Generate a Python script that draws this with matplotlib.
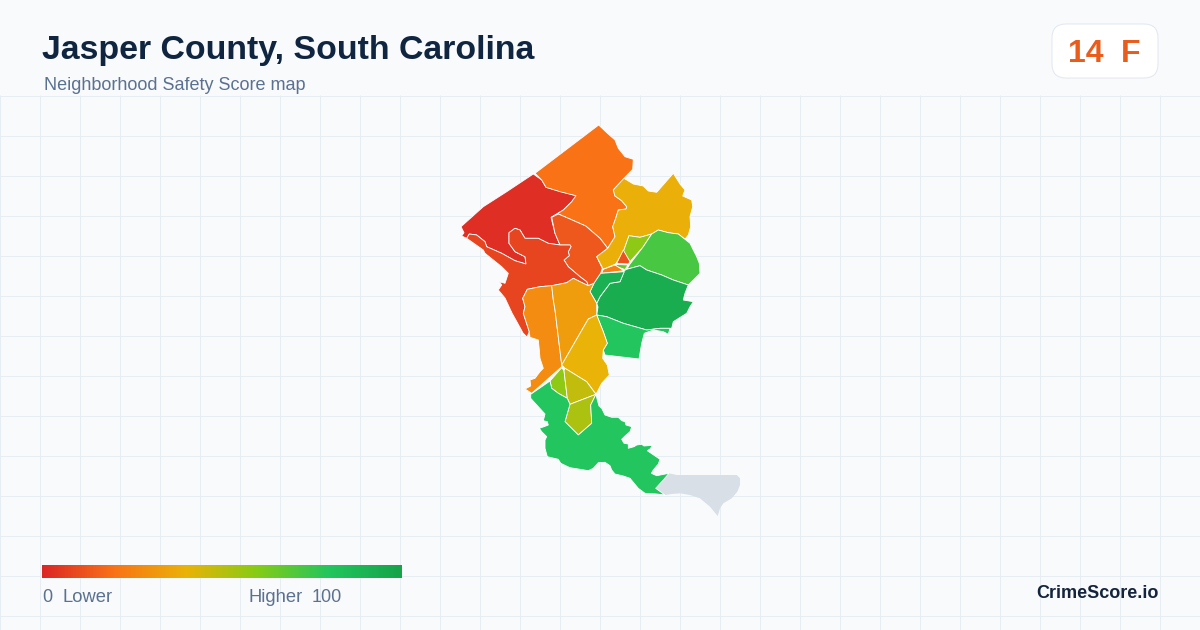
import numpy as np
import matplotlib.pyplot as plt
from matplotlib.colors import LinearSegmentedColormap, Normalize
from matplotlib.patches import FancyBboxPatch

title = "Jasper County, South Carolina"
subtitle = "Neighborhood Safety Score map"
score_text = "14"
grade_text = "F"
brand = "CrimeScore.io"

# region outlines (x, y in image pixels)
red_nw = [(533.3,174),(541.7,180),(546,187.3),(576,195.7),(571.7,201.7),(563.3,210),(551,217.3),(555,233.3),(560,245),
          (548.3,243.3),(538.3,238.3),(525,238.3),(520,230),(515,228.3),(509,232.7),(509,243.3),(515,251.7),(525,256.7),
          (526,264),(515,260.7),(501.7,253.3),(486.7,246.7),(485,241.7),(476.7,235),(469.3,234),(466.7,238.3),(461.7,236),
          (464,232.7),(461,226.7),(483.3,206.7),(506.7,191.7)]
north = [(598.7,125),(605.7,131.7),(615,140),(618.3,148.3),(625,156.7),(633.3,159.3),(632.7,169.3),(624,178.3),(613.3,190),
         (615,196),(621.7,200.7),(626.7,206.7),(626,209),(618.3,210),(615.7,218.3),(612.7,226.7),(615,236.7),(607.7,248.3),
         (600,238.3),(585.7,226),(568.3,218.3),(558.3,214),(551.7,217.3),(563.3,210),(571.7,201.7),(576,195.7),(560,191.7),
         (546,187.3),(541.7,180),(535,173.3)]
central = [(551.7,217.3),(558.3,214),(568.3,218.3),(585.7,226),(600,238.3),(607.7,248.3),(596.7,256.7),(602.3,268.3),
           (600.7,273.3),(594,283.3),(588.3,285.7),(586.7,281.7),(580,276.7),(568.3,266.7),(564,260),(569.3,255.7),
           (568.3,251.7),(571,246.7),(570,245),(560,245),(555,233.3)]
west = [(469.3,234),(476.7,235),(485,241.7),(486.7,246.7),(501.7,253.3),(515,260.7),(526,264),(525,256.7),(515,251.7),
        (509,243.3),(509,232.7),(515,228.3),(520,230),(525,238.3),(538.3,238.3),(548.3,243.3),(560,245),(570,245),(571,246.7),
        (568.3,251.7),(569.3,255.7),(564,260),(568.3,266.7),(580,276.7),(586.7,281.7),(588.3,285.7),(583.3,283.3),(573.3,278.3),
        (566.7,282.7),(551.7,285.7),(540,286.7),(527.3,289.3),(522.7,298.3),(525,306.7),(523.3,313.3),(529.3,331.7),(527,337),(523,333),
        (517,322),(512,313),(505,298),(498.3,290),(501.7,285),(499.3,281.7),(505,283.3),(508.3,273.3),(501.7,266.7),(485,253.3),
        (483.3,250),(466.7,238.3)]
northeast = [(624,178.3),(633.3,184),(643.3,186),(648.3,191),(656.7,192.3),(673.3,173.3),(680,184),(685,190),(682.7,196),
             (691.7,200),(692.7,206.7),(690,216.7),(690.7,226.7),(688.3,235),(685,239.3),(678.3,234),(668.3,232.7),(658.3,230),
             (651.7,234),(640,237.3),(629,235.7),(623.3,251.7),(615.7,264),(603.3,269.3),(596.7,256.7),(607.7,248.3),(615,236.7),
             (612.7,226.7),(615.7,218.3),(618.3,210),(626,209),(626.7,206.7),(621.7,200.7),(615,196),(613.3,190)]
lime_small = [(629,235.7),(640,237.3),(651.7,234),(643.3,246.7),(630,261.7),(623.3,251.7)]
sliver_red = [(623.3,250),(630,261.7),(628.3,264),(616.7,263.3)]
sliver_green = [(615,264.3),(628,265),(625,269.5),(617,266.7)]
sliver_orange = [(603.3,269.3),(615,265),(624,270.7),(601.7,273.3)]
green_ne = [(651.7,234),(658.3,230),(668.3,232.7),(678.3,234),(685,239.3),(690,243.3),(693.3,250),(696.7,256.7),(699.3,263.3),(700,273.3),
            (693.3,280),(688.3,285),(673.3,280),(661.7,275),(646.7,270),(640,265.7),(626.7,269.3),(630,264),(643.3,246.7)]
green_main = [(624.3,270.7),(626.7,269.3),(640,265.7),(646.7,270),(661.7,275),(673.3,280),(688.3,285),(685,293.3),(683.3,300),
              (693.3,301.7),(690,306.7),(686.7,313.3),(673.3,321.7),(671.7,328.3),(660,328.3),(646.7,330),(623.3,323.3),(606.7,316.7),
              (596.7,315),(598,307),(596.7,303.3),(600,296.7),(610,283.3),(620,281.7)]
green_west = [(600.7,273.3),(624.3,271.7),(620,281.7),(610,283.3),(600,296.7),(596.7,303.3),(590,291.7),(594,283.3)]
green_low = [(596.7,315),(606.7,316.7),(623.3,323.3),(646.7,330),(660,328.3),(670,328.3),(668.3,334.3),(663.3,331.7),(653.3,330),
             (644.3,333.3),(641.7,343.3),(639,359),(605,355),(603.3,350),(607.3,343.3),(603.3,331.7)]
orange_left = [(522.7,298.3),(527.3,289.3),(540,286.7),(551.7,285.7),(553.3,300),(555,310),(561.7,365),(561.7,366.7),(531.7,393.3),
               (525,389),(530.7,386),(530,380),(535,378.3),(540,371.7),(543.3,368.3),(540,358.3),(539.3,350),(538.3,340),(530,337.3),
               (529.3,331.7),(523.3,313.3),(525,306.7)]
orange_mid = [(551.7,285.7),(566.7,282.7),(573.3,278.3),(583.3,283.3),(588.3,285.7),(594,283.3),(590,291.7),(596.7,303.3),
              (596.7,315),(588.3,319),(561.7,365),(555,310),(553.3,300)]
yellow_right = [(588.3,319),(596.7,315),(603.3,331.7),(607.3,343.3),(603.3,350),(602.7,358.3),(607.3,365),(609.3,375),
                (601.7,383.3),(596,394.3),(586.7,381.7),(565,368.3),(561.7,365)]
lime_south = [(550,381),(561.7,367.7),(564,370.7),(567.3,398.3),(558.3,393.3),(551.7,388.3)]
olive_a = [(564,370.7),(565,368.3),(586.7,381.7),(596,394.3),(570,404.3),(567.3,398.3)]
olive_b = [(570,404.3),(596,394.3),(590.7,405),(591.7,423.3),(578.3,435),(565,421.7),(568.3,410)]
south = [(530.7,394.3),(550,381),(551.7,388.3),(558.3,393.3),(567.3,398.3),(570,404.3),(568.3,410),(565,421.7),(578.3,435),
         (591.7,423.3),(590.7,405),(596,394.3),(597.3,400),(599,406),(601.7,408.3),(605,415),(611.7,417.3),(618.3,417.3),(621.7,420.7),
         (625,421.7),(626,425),(631.7,426.7),(630,431.7),(625,436),(621.7,439.3),(624,443.3),(628.3,444),(628.3,448.3),(634,446.7),
         (636.7,445),(641.7,444.3),(644,446),(652.7,445.3),(650,449),(647.3,450.7),(660,459.3),(658.3,464),(653.3,470),(651.3,473.3),
         (656.7,475.7),(669,473.3),(663.3,480),(655.7,488.3),(665,495),(656.7,494),(645,493.3),(638.3,488.3),(630,478.3),(623.3,476),
         (615,474),(611.7,470),(610,465.7),(605,462.3),(598.3,462.7),(593.3,468.3),(588.3,470.7),(578.3,469),(570,467.7),(560.7,463.3),
         (558.3,459.3),(547.3,456.7),(545,448.3),(545,440),(546.7,436.7),(541.7,431.7),(539.3,428.3),(544,426.7),(548.3,425),(547.3,421.7),
         (543.3,420.7),(545,414),(538.3,406.7),(530.7,398.3)]
no_data = [(669,473.3),(676.7,475),(736.7,475),(740,478.3),(740,485),(737.3,491.7),(731.7,498.3),(723.3,503.3),(720,508.3),(717.7,516),
           (710,506.7),(700,498.3),(690,495),(680,493.3),(671.7,494),(665,495),(655.7,488.3),(663.3,480)]

regions = [red_nw, north, central, west, northeast, lime_small, sliver_red, sliver_green, sliver_orange, green_ne, green_main,
           green_west, green_low, orange_left, orange_mid, yellow_right, lime_south, olive_a, olive_b, south]
scores = [2, 20, 13, 8, 39, 58, 12, 65, 24, 72, 94, 92, 80, 28, 33, 40, 58, 48, 52, 80]

# colour scale of the legend bar
scale_stops = [0, 20, 40, 60, 80, 100]
scale_colors = ["#dc2626", "#f97316", "#eab308", "#84cc16", "#22c55e", "#16a34a"]

norm = Normalize(0, 100)
cmap = LinearSegmentedColormap.from_list("safety", [(norm(s), c) for s, c in zip(scale_stops, scale_colors)])

fig = plt.figure(figsize=(12, 6.3), dpi=100, facecolor="#f8fafc")
ax = fig.add_axes([0, 0, 1, 1])
ax.set_xlim(0, 1200)
ax.set_ylim(630, 0)
ax.axis("off")

# background grid, snap off so the lines stay on the pixel rows they were read from
for x in range(0, 1200, 40):
    ax.plot([x + 0.5, x + 0.5], [96, 630], color="#e6eef3", lw=0.72, zorder=1, snap=False)
for y in range(96, 630, 40):
    ax.plot([0, 1200], [y + 0.5, y + 0.5], color="#e6eef3", lw=0.72, zorder=1, snap=False)

# map
xy = np.array(no_data)
ax.fill(xy[:, 0], xy[:, 1], facecolor="#d8dfe6", edgecolor="none", zorder=2)
for pts, s in zip(regions, scores):
    xy = np.array(pts)
    ax.fill(xy[:, 0], xy[:, 1], facecolor=cmap(norm(s)), edgecolor="white", lw=0.6, zorder=3)

# header
ax.text(42, 50, title, family="Liberation Sans", weight="bold", fontsize=24.4, color="#0f2540", va="center", zorder=5)
ax.text(44, 86, subtitle, family="Liberation Sans", fontsize=12.95, color="#5b7190", va="center", zorder=5)

# score badge
ax.add_patch(FancyBboxPatch((1066, 38), 78, 26, boxstyle="round,pad=14,rounding_size=14", facecolor="white",
                            edgecolor="#e2e8f0", lw=0.72, zorder=4))
ax.text(1086, 53.5, score_text, family="Liberation Sans", weight="bold", fontsize=23, color="#ea5c1c", ha="center", va="center", zorder=5)
ax.text(1130.5, 53.5, grade_text, family="Liberation Sans", weight="bold", fontsize=23, color="#ea5c1c", ha="center", va="center", zorder=5)

# legend
grad = np.linspace(0, 100, 360).reshape(1, -1)
ax.imshow(grad, cmap=cmap, norm=norm, extent=(42, 402, 578, 565), aspect="auto", zorder=4)
ax.set_xlim(0, 1200)
ax.set_ylim(630, 0)
ax.text(42, 597.5, "0", family="Liberation Sans", fontsize=13, color="#5b7190", va="center", zorder=5)
ax.text(62, 597.5, "Lower", family="Liberation Sans", fontsize=13.2, color="#5b7190", va="center", zorder=5)
ax.text(249, 597.5, "Higher", family="Liberation Sans", fontsize=13.2, color="#5b7190", va="center", zorder=5)
ax.text(341.5, 597.5, "100", family="Liberation Sans", fontsize=13, color="#5b7190", va="center", ha="right", zorder=5)

ax.text(1158.5, 594, brand, family="Liberation Sans", weight="bold", fontsize=13, color="#14243c", ha="right", va="center", zorder=5)

fig.savefig("out.png", dpi=100, facecolor=fig.get_facecolor())
